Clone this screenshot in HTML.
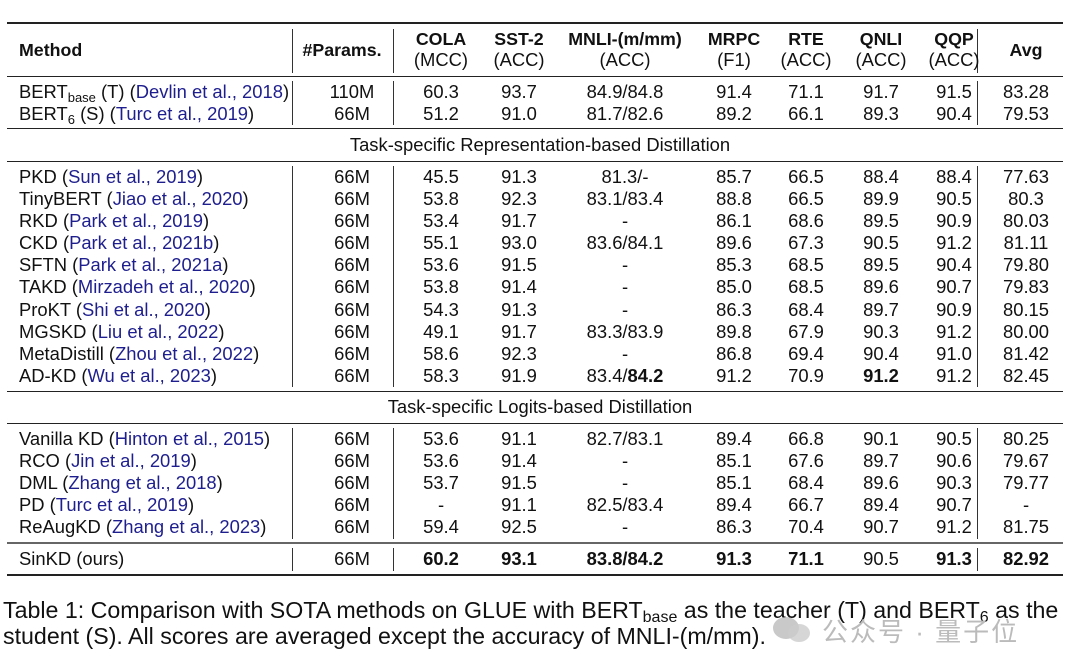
<!DOCTYPE html>
<html><head><meta charset="utf-8"><style>
body{margin:0;background:#fff;width:1080px;height:670px;position:relative;overflow:hidden;font-family:"Liberation Sans","Noto Sans CJK SC",sans-serif;color:#111;font-size:18.4px}
.h{position:absolute;left:7px;width:1056px;background:#222}
.v{position:absolute;width:1.3px;background:#333}
.r{position:absolute;left:0;width:1080px;height:20px;line-height:20px}
.r span{position:absolute;top:0;text-align:center;white-space:nowrap}
.c0{left:19px;text-align:left!important}
.c1{left:302px;width:100px}.c2{left:401px;width:80px}.c3{left:479px;width:80px}.c4{left:545px;width:160px}
.c5{left:694px;width:80px}.c6{left:766px;width:80px}.c7{left:841px;width:80px}.c8{left:914px;width:80px}.c9{left:986px;width:80px}
.hd{font-size:17.8px}
.b{color:#1e1e8e}
b{font-weight:bold}
sub{font-size:13px;vertical-align:-4px;line-height:0}
.t{position:absolute;left:0;width:1080px;text-align:center}
.cap{position:absolute;left:3px;font-size:23.2px;line-height:26px;color:#111;white-space:nowrap}
</style></head><body>
<div class="h" style="top:22px;height:2px"></div>
<div class="h" style="top:76px;height:1px"></div>
<div class="h" style="top:128px;height:1px"></div>
<div class="h" style="top:161px;height:1px"></div>
<div class="h" style="top:391px;height:1px"></div>
<div class="h" style="top:423px;height:1px"></div>
<div class="h" style="top:542px;height:2px;background:#666"></div>
<div class="h" style="top:574px;height:2px"></div>

<div class="v" style="left:292px;top:29px;height:44px"></div><div class="v" style="left:393px;top:29px;height:44px"></div><div class="v" style="left:977px;top:29px;height:44px"></div>
<div class="v" style="left:292px;top:81px;height:44px"></div><div class="v" style="left:393px;top:81px;height:44px"></div><div class="v" style="left:977px;top:81px;height:44px"></div>
<div class="v" style="left:292px;top:166px;height:221px"></div><div class="v" style="left:393px;top:166px;height:221px"></div><div class="v" style="left:977px;top:166px;height:221px"></div>
<div class="v" style="left:292px;top:428px;height:111px"></div><div class="v" style="left:393px;top:428px;height:111px"></div><div class="v" style="left:977px;top:428px;height:111px"></div>
<div class="v" style="left:292px;top:548px;height:23px"></div><div class="v" style="left:393px;top:548px;height:23px"></div><div class="v" style="left:977px;top:548px;height:23px"></div>

<div class="r hd" style="top:29px"><span class="c2"><b>COLA</b></span><span class="c3"><b>SST-2</b></span><span class="c4"><b>MNLI-(m/mm)</b></span><span class="c5"><b>MRPC</b></span><span class="c6"><b>RTE</b></span><span class="c7"><b>QNLI</b></span><span class="c8"><b>QQP</b></span></div>
<div class="r hd" style="top:40px"><span class="c0"><b>Method</b></span><span class="c1" style="left:292px"><b>#Params.</b></span><span class="c9"><b>Avg</b></span></div>
<div class="r" style="top:50px"><span class="c2">(MCC)</span><span class="c3">(ACC)</span><span class="c4">(ACC)</span><span class="c5">(F1)</span><span class="c6">(ACC)</span><span class="c7">(ACC)</span><span class="c8">(ACC)</span></div>

<div class="r" style="top:82px"><span class="c0">BERT<sub>base</sub> (T) (<span class="b" style="position:static">Devlin et al., 2018</span>)</span><span class="c1">110M</span><span class="c2">60.3</span><span class="c3">93.7</span><span class="c4">84.9/84.8</span><span class="c5">91.4</span><span class="c6">71.1</span><span class="c7">91.7</span><span class="c8">91.5</span><span class="c9">83.28</span></div>
<div class="r" style="top:104px"><span class="c0">BERT<sub>6</sub> (S) (<span class="b" style="position:static">Turc et al., 2019</span>)</span><span class="c1">66M</span><span class="c2">51.2</span><span class="c3">91.0</span><span class="c4">81.7/82.6</span><span class="c5">89.2</span><span class="c6">66.1</span><span class="c7">89.3</span><span class="c8">90.4</span><span class="c9">79.53</span></div>
<div class="t r" style="top:135px">Task-specific Representation-based Distillation</div>

<div class="r" style="top:167px"><span class="c0">PKD (<span class="b" style="position:static">Sun et al., 2019</span>)</span><span class="c1">66M</span><span class="c2">45.5</span><span class="c3">91.3</span><span class="c4">81.3/-</span><span class="c5">85.7</span><span class="c6">66.5</span><span class="c7">88.4</span><span class="c8">88.4</span><span class="c9">77.63</span></div>
<div class="r" style="top:189px"><span class="c0">TinyBERT (<span class="b" style="position:static">Jiao et al., 2020</span>)</span><span class="c1">66M</span><span class="c2">53.8</span><span class="c3">92.3</span><span class="c4">83.1/83.4</span><span class="c5">88.8</span><span class="c6">66.5</span><span class="c7">89.9</span><span class="c8">90.5</span><span class="c9">80.3</span></div>
<div class="r" style="top:211px"><span class="c0">RKD (<span class="b" style="position:static">Park et al., 2019</span>)</span><span class="c1">66M</span><span class="c2">53.4</span><span class="c3">91.7</span><span class="c4">-</span><span class="c5">86.1</span><span class="c6">68.6</span><span class="c7">89.5</span><span class="c8">90.9</span><span class="c9">80.03</span></div>
<div class="r" style="top:233px"><span class="c0">CKD (<span class="b" style="position:static">Park et al., 2021b</span>)</span><span class="c1">66M</span><span class="c2">55.1</span><span class="c3">93.0</span><span class="c4">83.6/84.1</span><span class="c5">89.6</span><span class="c6">67.3</span><span class="c7">90.5</span><span class="c8">91.2</span><span class="c9">81.11</span></div>
<div class="r" style="top:255px"><span class="c0">SFTN (<span class="b" style="position:static">Park et al., 2021a</span>)</span><span class="c1">66M</span><span class="c2">53.6</span><span class="c3">91.5</span><span class="c4">-</span><span class="c5">85.3</span><span class="c6">68.5</span><span class="c7">89.5</span><span class="c8">90.4</span><span class="c9">79.80</span></div>
<div class="r" style="top:277px"><span class="c0">TAKD (<span class="b" style="position:static">Mirzadeh et al., 2020</span>)</span><span class="c1">66M</span><span class="c2">53.8</span><span class="c3">91.4</span><span class="c4">-</span><span class="c5">85.0</span><span class="c6">68.5</span><span class="c7">89.6</span><span class="c8">90.7</span><span class="c9">79.83</span></div>
<div class="r" style="top:300px"><span class="c0">ProKT (<span class="b" style="position:static">Shi et al., 2020</span>)</span><span class="c1">66M</span><span class="c2">54.3</span><span class="c3">91.3</span><span class="c4">-</span><span class="c5">86.3</span><span class="c6">68.4</span><span class="c7">89.7</span><span class="c8">90.9</span><span class="c9">80.15</span></div>
<div class="r" style="top:322px"><span class="c0">MGSKD (<span class="b" style="position:static">Liu et al., 2022</span>)</span><span class="c1">66M</span><span class="c2">49.1</span><span class="c3">91.7</span><span class="c4">83.3/83.9</span><span class="c5">89.8</span><span class="c6">67.9</span><span class="c7">90.3</span><span class="c8">91.2</span><span class="c9">80.00</span></div>
<div class="r" style="top:344px"><span class="c0">MetaDistill (<span class="b" style="position:static">Zhou et al., 2022</span>)</span><span class="c1">66M</span><span class="c2">58.6</span><span class="c3">92.3</span><span class="c4">-</span><span class="c5">86.8</span><span class="c6">69.4</span><span class="c7">90.4</span><span class="c8">91.0</span><span class="c9">81.42</span></div>
<div class="r" style="top:366px"><span class="c0">AD-KD (<span class="b" style="position:static">Wu et al., 2023</span>)</span><span class="c1">66M</span><span class="c2">58.3</span><span class="c3">91.9</span><span class="c4">83.4/<b>84.2</b></span><span class="c5">91.2</span><span class="c6">70.9</span><span class="c7"><b>91.2</b></span><span class="c8">91.2</span><span class="c9">82.45</span></div>
<div class="t r" style="top:397px">Task-specific Logits-based Distillation</div>

<div class="r" style="top:429px"><span class="c0">Vanilla KD (<span class="b" style="position:static">Hinton et al., 2015</span>)</span><span class="c1">66M</span><span class="c2">53.6</span><span class="c3">91.1</span><span class="c4">82.7/83.1</span><span class="c5">89.4</span><span class="c6">66.8</span><span class="c7">90.1</span><span class="c8">90.5</span><span class="c9">80.25</span></div>
<div class="r" style="top:451px"><span class="c0">RCO (<span class="b" style="position:static">Jin et al., 2019</span>)</span><span class="c1">66M</span><span class="c2">53.6</span><span class="c3">91.4</span><span class="c4">-</span><span class="c5">85.1</span><span class="c6">67.6</span><span class="c7">89.7</span><span class="c8">90.6</span><span class="c9">79.67</span></div>
<div class="r" style="top:473px"><span class="c0">DML (<span class="b" style="position:static">Zhang et al., 2018</span>)</span><span class="c1">66M</span><span class="c2">53.7</span><span class="c3">91.5</span><span class="c4">-</span><span class="c5">85.1</span><span class="c6">68.4</span><span class="c7">89.6</span><span class="c8">90.3</span><span class="c9">79.77</span></div>
<div class="r" style="top:495px"><span class="c0">PD (<span class="b" style="position:static">Turc et al., 2019</span>)</span><span class="c1">66M</span><span class="c2">-</span><span class="c3">91.1</span><span class="c4">82.5/83.4</span><span class="c5">89.4</span><span class="c6">66.7</span><span class="c7">89.4</span><span class="c8">90.7</span><span class="c9">-</span></div>
<div class="r" style="top:517px"><span class="c0">ReAugKD (<span class="b" style="position:static">Zhang et al., 2023</span>)</span><span class="c1">66M</span><span class="c2">59.4</span><span class="c3">92.5</span><span class="c4">-</span><span class="c5">86.3</span><span class="c6">70.4</span><span class="c7">90.7</span><span class="c8">91.2</span><span class="c9">81.75</span></div>
<div class="r" style="top:549px"><span class="c0">SinKD (ours)</span><span class="c1">66M</span><span class="c2"><b>60.2</b></span><span class="c3"><b>93.1</b></span><span class="c4"><b>83.8/84.2</b></span><span class="c5"><b>91.3</b></span><span class="c6"><b>71.1</b></span><span class="c7">90.5</span><span class="c8"><b>91.3</b></span><span class="c9"><b>82.92</b></span></div>

<div class="cap" style="top:597px">Table 1: Comparison with SOTA methods on GLUE with BERT<sub style="font-size:16px">base</sub> as the teacher (T) and BERT<sub style="font-size:16px">6</sub> as the</div>
<div class="cap" style="top:623px">student (S). All scores are averaged except the accuracy of MNLI-(m/mm).</div>

<div style="position:absolute;left:773px;top:617px;width:26px;height:22px;border-radius:50%;background:#bbb;opacity:.8"></div>
<div style="position:absolute;left:788px;top:624px;width:22px;height:18px;border-radius:50%;background:#ccc;opacity:.8"></div>
<div style="position:absolute;left:822px;top:612px;font-size:26px;color:#bbb;letter-spacing:2px">公众号 · 量子位</div>
</body></html>
